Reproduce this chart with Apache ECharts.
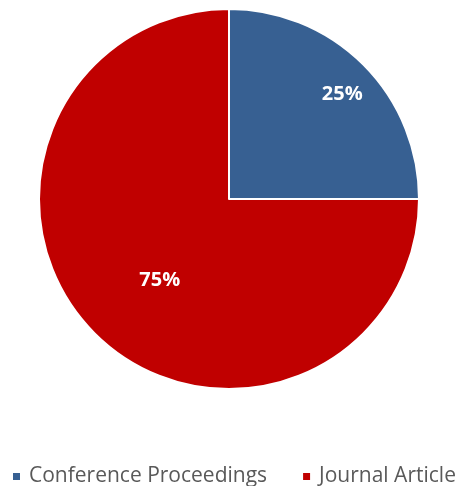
<!DOCTYPE html>
<html><head><meta charset="utf-8">
<script src="https://cdn.jsdelivr.net/npm/echarts@6/dist/echarts.min.js"></script>
<style>html,body{margin:0;padding:0;background:#fff}#c{width:461px;height:486px}</style>
</head><body><div id="c"></div>
<script>
const categories = ["Conference Proceedings", "Journal Article"];
const values = [25, 75];
const colors = ["#376092", "#C00000"];
const labelOffsets = [[44, -35], [0, 12]];

const chart = echarts.init(document.getElementById('c'));
chart.setOption({
  animation: false,
  legend: {
    top: 461,
    left: 6,
    width: 455,
    padding: [5, 0, 5, 5],
    itemWidth: 9, itemHeight: 9, itemGap: 34,
    icon: 'rect',
    textStyle: { fontFamily: 'Open Sans', fontSize: 21, color: '#595959', padding: [2, 0, 0, 3] },
    data: categories
  },
  series: [{
    type: 'pie',
    center: [229, 199],
    radius: [0, 190],
    startAngle: 90,
    clockwise: true,
    itemStyle: { borderColor: '#fff', borderWidth: 2 },
    label: {
      show: true, position: 'inside',
      formatter: p => p.value + '%',
      color: '#fff', fontWeight: 'bold', fontSize: 20, fontFamily: 'Open Sans'
    },
    labelLine: { show: false },
    emphasis: { disabled: true },
    data: categories.map((n, i) => ({
      name: n, value: values[i],
      itemStyle: { color: colors[i] },
      label: { offset: labelOffsets[i] }
    }))
  }]
});
</script></body></html>
